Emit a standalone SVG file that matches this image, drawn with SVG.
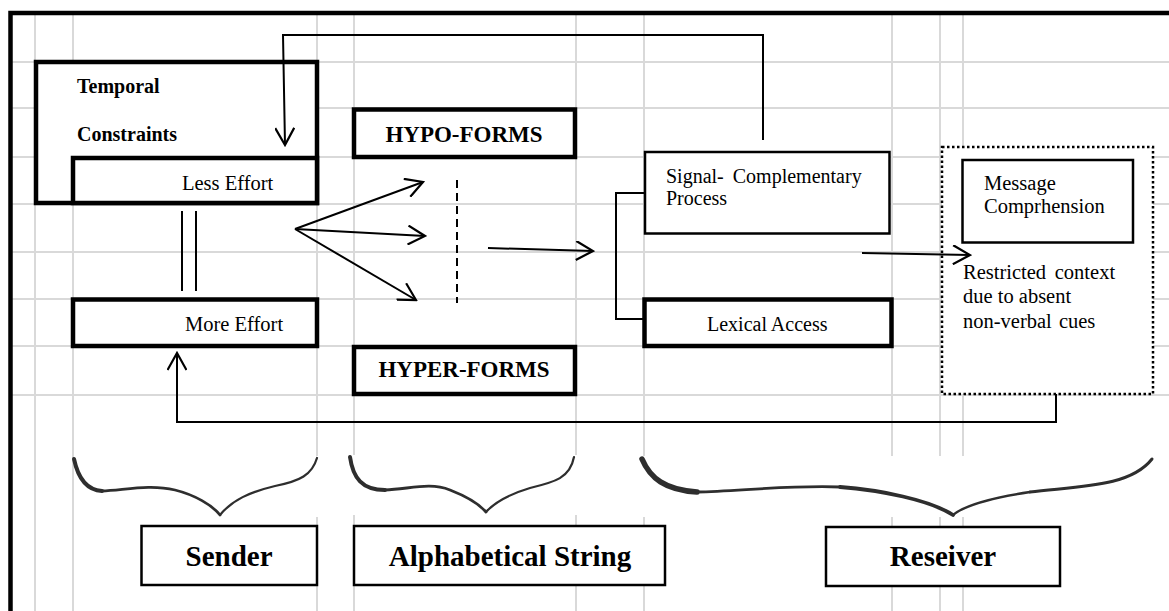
<svg xmlns="http://www.w3.org/2000/svg" width="1169" height="611" viewBox="0 0 1169 611">
<defs>
<style>
.grid{stroke:#d9d9d9;stroke-width:2;fill:none}
.thick{fill:#fff;stroke:#000;stroke-width:4.5}
.thin{fill:#fff;stroke:#000;stroke-width:2.5}
.dot{fill:#fff;stroke:#000;stroke-width:2.5;stroke-dasharray:2.5 2.5}
.conn{fill:none;stroke:#000;stroke-width:2}
.t{font-family:"Liberation Serif","Times New Roman",serif;font-size:20.5px;fill:#000}
.b{font-weight:bold}
.s20{font-size:20px}
.s23{font-size:23px}
.big{font-size:29px;font-weight:bold}
.brace{fill:none;stroke:#2e2e2e;stroke-linecap:round}
.mask{fill:#fff}
</style>
<marker id="arr" viewBox="0 0 20 20" refX="18" refY="10" markerWidth="20" markerHeight="20" markerUnits="userSpaceOnUse" orient="auto">
<path d="M1,0.5 L18,10 L1,19.5" fill="none" stroke="#000" stroke-width="2.2"/>
</marker>
</defs>
<rect width="1169" height="611" fill="#fff"/>
<g id="grid">
<path class="grid" d="M35,13V611 M73,13V611 M317,13V611 M354,13V611 M576,13V611 M644,13V611 M892,13V611 M940,13V611 M963,13V611"/>
<path class="grid" d="M10,62H1169 M10,108H1169 M10,157H1169 M10,204H1169 M10,252H1169 M10,299H1169 M10,346H1169 M10,395H1169"/>
<rect class="mask" x="74" y="456" width="245" height="61"/>
<rect class="mask" x="348" y="455" width="230" height="60"/>
<rect class="mask" x="639" y="456" width="527" height="61"/>
</g>
<g id="temporal">
<rect class="thick" x="36" y="62" width="281" height="141"/>
<text class="t b s20" x="77" y="93">Temporal</text>
<text class="t b s20" x="77" y="141">Constraints</text>
</g>
<g id="less-effort">
<rect class="thick" x="73" y="158" width="244" height="45"/>
<text class="t" x="182" y="190">Less Effort</text>
</g>
<g id="more-effort">
<rect class="thick" x="73" y="299.5" width="244" height="46.5"/>
<text class="t" x="185" y="331">More Effort</text>
</g>
<g id="hypo-forms">
<rect class="thick" x="354" y="109.5" width="221" height="47.5"/>
<text class="t b s23" x="464" y="142" text-anchor="middle">HYPO-FORMS</text>
</g>
<g id="hyper-forms">
<rect class="thick" x="354" y="347" width="221" height="47"/>
<text class="t b s23" x="464" y="377" text-anchor="middle">HYPER-FORMS</text>
</g>
<g id="signal">
<rect class="thin" x="645" y="152" width="244.5" height="81.5"/>
<text class="t s20" x="666" y="183" word-spacing="4">Signal- Complementary</text>
<text class="t s20" x="666" y="205">Process</text>
</g>
<g id="lexical">
<rect class="thick" x="644.5" y="299.5" width="247" height="46.5"/>
<text class="t s20" x="707" y="331">Lexical Access</text>
</g>
<g id="receiver-context">
<rect class="dot" x="942" y="147" width="211" height="247"/>
<text class="t" x="963" y="279" word-spacing="3.5">Restricted context</text>
<text class="t" x="963" y="303">due to absent</text>
<text class="t" x="963" y="328" word-spacing="2">non-verbal cues</text>
</g>
<g id="message">
<rect class="thin" x="962.5" y="160" width="170.5" height="82.5" stroke-width="3"/>
<text class="t" x="984" y="190">Message</text>
<text class="t" x="984" y="213">Comprhension</text>
</g>
<g id="connectors">
<path class="conn" d="M763,140 L763,35 L283,35 L285,145" marker-end="url(#arr)"/>
<path class="conn" d="M182,211 L182,291 M196,211 L196,291"/>
<path class="conn" d="M295,229 L423,182" marker-end="url(#arr)"/>
<path class="conn" d="M295,229 L425,236" marker-end="url(#arr)"/>
<path class="conn" d="M295,229 L416,300" marker-end="url(#arr)"/>
<path class="conn" d="M457,180 L457,303" stroke-dasharray="8 5"/>
<path class="conn" d="M488,248 L593,251" marker-end="url(#arr)"/>
<path class="conn" d="M645,193 L616,193 L616,319 L644,319"/>
<path class="conn" d="M862,253 L970,255" marker-end="url(#arr)"/>
<path class="conn" d="M1056,394 L1056,422 L177,422 L177,353" marker-end="url(#arr)"/>
</g>
<g id="braces">
<path class="brace" stroke-width="4" d="M74,459 C78,478 86,490 102,491"/>
<path class="brace" stroke-width="2.8" d="M102,491 C125,490 150,484 175,490 C195,495 212,505 220,515"/>
<path class="brace" stroke-width="2.2" d="M220,515 C232,500 250,492 275,486 C300,481 312,475 317,458"/>
<path class="brace" stroke-width="4" d="M350,457 C353,478 362,490 385,490"/>
<path class="brace" stroke-width="2.8" d="M385,490 C410,489 430,482 450,490 C468,497 480,505 486,512"/>
<path class="brace" stroke-width="2.2" d="M486,512 C495,502 510,494 530,488 C555,482 570,478 574,457"/>
<path class="brace" stroke-width="5.5" d="M642,459 C650,478 665,490 697,492"/>
<path class="brace" stroke-width="2.8" d="M697,492 C740,491 790,485 840,487"/>
<path class="brace" stroke-width="3.8" d="M840,487 C880,490 930,500 953,515"/>
<path class="brace" stroke-width="2.4" d="M953,515 C965,505 990,498 1030,492"/>
<path class="brace" stroke-width="3" d="M1030,492 C1080,486 1130,487 1152,459"/>
</g>
<g id="sender">
<rect class="thin" x="141.5" y="526" width="175.5" height="59"/>
<text class="t big" x="229" y="566" text-anchor="middle">Sender</text>
</g>
<g id="alphabetical-string">
<rect class="thin" x="354" y="526" width="311" height="59"/>
<text class="t big" x="510" y="566" text-anchor="middle">Alphabetical String</text>
</g>
<g id="reseiver">
<rect class="thin" x="826" y="527" width="234" height="59"/>
<text class="t big" x="943" y="566" text-anchor="middle">Reseiver</text>
</g>
<g id="frame">
<path d="M10.5,611 V13 H1169" fill="none" stroke="#000" stroke-width="4.5"/>
</g>
</svg>
